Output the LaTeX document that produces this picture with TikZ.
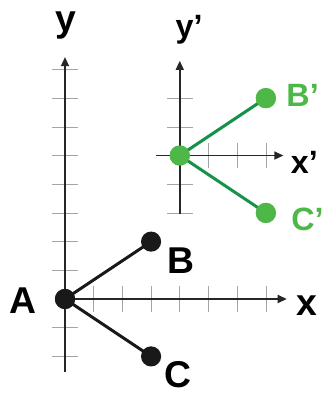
\documentclass[tikz,border=0pt]{standalone}
\usepackage{fontspec}
\setmainfont{Liberation Sans}
\usetikzlibrary{arrows.meta}
\definecolor{ptgreen}{HTML}{4DB848}
\definecolor{lngreen}{HTML}{17924A}
\definecolor{tickgray}{HTML}{A5A5A5}
\begin{document}
\begin{tikzpicture}[
	axis/.style={draw=black!85, line width=1.5pt, -{Triangle[length=9pt,width=8pt]}},
	tick/.style={draw=tickgray, line width=0.6pt},
	seg/.style={line width=3pt},
	pt/.style={circle, fill=#1, inner sep=0pt, minimum size=20pt},
	lbl/.style={font=\fontsize{37}{40}\selectfont\bfseries, inner sep=0pt, anchor=base},
	plbl/.style={font=\fontsize{32}{36}\selectfont\bfseries, inner sep=0pt, anchor=base east, text=ptgreen},
]
\useasboundingbox (-2.265,-3.345) rectangle (9.164,10.42);

% original frame
\foreach \k in {-2,-1,1,2,...,8} \draw[tick] (-0.45,\k) -- (0.45,\k);
\foreach \k in {1,...,7} \draw[tick] (\k,-0.45) -- (\k,0.45);

\coordinate (ybot) at (0,-2.54);
\coordinate (ytop) at (0, 8.43);
\coordinate (xend) at (7.73,0);

\node[pt=black!90] (A) at (0, 0) {};
\node[pt=black!90] (B) at (3, 2) {};
\node[pt=black!90] (C) at (3,-2) {};

\draw[axis] (ybot) -- (ytop);
\draw[axis] (A.center) -- (xend);
\draw[seg, black!90] (A.center) -- (B.center);
\draw[seg, black!90] (A.center) -- (C.center);
\node[pt=black!90] at (A) {};

\node[lbl] (ylab) at ( 0.03, 9.33) {y};
\node[lbl] (xlab) at ( 8.43,-0.56) {x};
\node[lbl] (alab) at (-1.48,-0.49) {A};
\node[lbl] (blab) at ( 4.04, 0.90) {B};
\node[lbl] (clab) at ( 3.94,-3.10) {C};

% translated frame
\begin{scope}[shift={(4,5)}]
	\foreach \k in {-2,-1,1,2} \draw[tick] (-0.45,\k) -- (0.45,\k);
	\foreach \k in {1,2,3} \draw[tick] (\k,-0.45) -- (\k,0.45);

	\coordinate (ybotp)   at (0,-2.05);
	\coordinate (ytopp)   at (0, 3.30);
	\coordinate (xstartp) at (-0.84,0);
	\coordinate (xendp)   at (3.61,0);

	\node[pt=ptgreen] (Ap) at (0, 0) {};
	\node[pt=ptgreen] (Bp) at (3, 2) {};
	\node[pt=ptgreen] (Cp) at (3,-2) {};

	\draw[axis] (ybotp) -- (ytopp);
	\draw[axis] (xstartp) -- (xendp);
	\draw[seg, lngreen] (Ap.center) -- (Bp.center);
	\draw[seg, lngreen] (Ap.center) -- (Cp.center);
	\node[pt=ptgreen] at (Ap) {};
	\node[pt=ptgreen] at (Bp) {};
	\node[pt=ptgreen] at (Cp) {};
\end{scope}

\node[plbl, text=black] (yplab) at (4.80, 9.13) {y’};
\node[plbl, text=black] (xplab) at (8.82, 4.39) {x’};
\node[plbl] (bplab) at (8.85, 6.72) {B’};
\node[plbl] (cplab) at (9.02, 2.40) {C’};
\end{tikzpicture}
\end{document}
